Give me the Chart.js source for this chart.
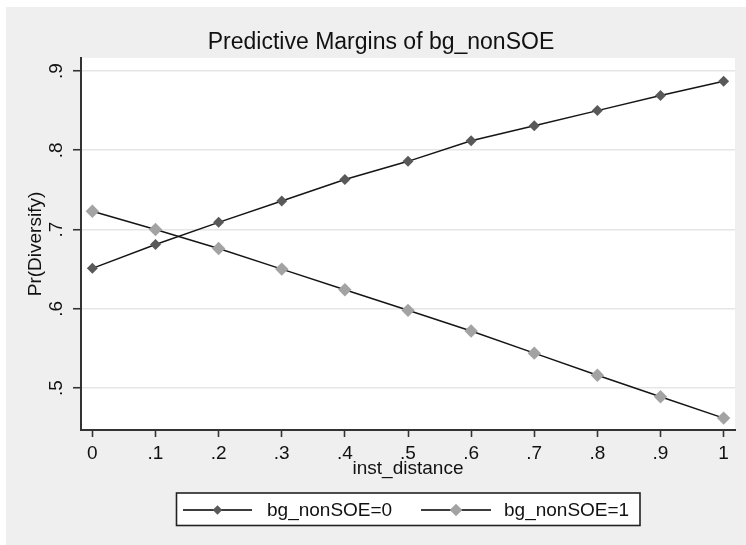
<!DOCTYPE html>
<html>
<head>
<meta charset="utf-8">
<script src="https://cdn.jsdelivr.net/npm/chart.js@4/dist/chart.umd.min.js"></script>
<style>
html,body{margin:0;padding:0;background:#ffffff;}
#wrap{width:746px;height:545px;}
</style>
</head>
<body>
<div id="wrap"><canvas id="c" width="746" height="545"></canvas></div>
<script>
const instDistance = [0, 0.1, 0.2, 0.3, 0.4, 0.5, 0.6, 0.7, 0.8, 0.9, 1];
const nonSOE0 = [0.651, 0.681, 0.709, 0.736, 0.763, 0.786, 0.812, 0.831, 0.850, 0.869, 0.887];
const nonSOE1 = [0.723, 0.700, 0.676, 0.650, 0.624, 0.598, 0.572, 0.544, 0.516, 0.489, 0.462];
const seriesNames = ['bg_nonSOE=0', 'bg_nonSOE=1'];
const xTicks = [0, 0.1, 0.2, 0.3, 0.4, 0.5, 0.6, 0.7, 0.8, 0.9, 1];
const xTickLabels = ['0', '.1', '.2', '.3', '.4', '.5', '.6', '.7', '.8', '.9', '1'];
const yTicks = [0.5, 0.6, 0.7, 0.8, 0.9];
const yTickLabels = ['.5', '.6', '.7', '.8', '.9'];
const titleText = 'Predictive Margins of bg_nonSOE';
const xTitle = 'inst_distance';
const yTitle = 'Pr(Diversify)';

const FONT = '"Liberation Sans", Arial, Helvetica, sans-serif';
const TXT = '#111111';
const colors = ['#595959', '#a3a3a3'];
const radii = [5.5, 6.7];

const pts = arr => arr.map((v, i) => ({x: instDistance[i], y: v}));

const bgPlugin = {
  id: 'bg',
  beforeDraw(chart) {
    const ctx = chart.ctx, a = chart.chartArea;
    ctx.save();
    ctx.fillStyle = '#ffffff';
    ctx.fillRect(0, 0, chart.width, chart.height);
    ctx.fillStyle = '#efefef';
    ctx.fillRect(6, 7, chart.width - 6, chart.height - 7);
    ctx.fillStyle = '#ffffff';
    ctx.fillRect(a.left, a.top, a.right - a.left, a.bottom - a.top);
    ctx.restore();
  },
  afterDraw(chart) {
    const ctx = chart.ctx;
    ctx.save();
    // title
    ctx.fillStyle = TXT;
    ctx.font = '23px ' + FONT;
    ctx.textAlign = 'center';
    ctx.textBaseline = 'alphabetic';
    ctx.fillText(titleText, 381, 49);
    // legend box
    ctx.fillStyle = '#ffffff';
    ctx.fillRect(176, 493, 464, 32);
    ctx.strokeStyle = '#222222';
    ctx.lineWidth = 1.6;
    ctx.strokeRect(176.5, 493, 463.5, 32.5);
    const entries = [
      {x1: 183, x2: 252, tx: 267},
      {x1: 421, x2: 491, tx: 504}
    ];
    const ly = 510;
    entries.forEach((e, i) => {
      ctx.strokeStyle = '#3c3c3c';
      ctx.lineWidth = 1.8;
      ctx.beginPath();
      ctx.moveTo(e.x1, ly);
      ctx.lineTo(e.x2, ly);
      ctx.stroke();
      const mx = (e.x1 + e.x2) / 2;
      const r = i === 0 ? 4.8 : 6.3;
      ctx.fillStyle = colors[i];
      ctx.beginPath();
      ctx.moveTo(mx - r, ly);
      ctx.lineTo(mx, ly - r);
      ctx.lineTo(mx + r, ly);
      ctx.lineTo(mx, ly + r);
      ctx.closePath();
      ctx.fill();
      ctx.fillStyle = TXT;
      ctx.font = '19px ' + FONT;
      ctx.textAlign = 'left';
      ctx.textBaseline = 'alphabetic';
      ctx.fillText(seriesNames[i], e.tx, 516);
    });
    ctx.restore();
  }
};

new Chart(document.getElementById('c'), {
  type: 'line',
  data: {
    datasets: [
      {label: seriesNames[0], data: pts(nonSOE0), borderColor: '#151515', borderWidth: 1.5,
       pointStyle: 'rectRot', pointRadius: radii[0], pointBackgroundColor: colors[0], pointBorderWidth: 0, tension: 0},
      {label: seriesNames[1], data: pts(nonSOE1), borderColor: '#151515', borderWidth: 1.5,
       pointStyle: 'rectRot', pointRadius: radii[1], pointBackgroundColor: colors[1], pointBorderWidth: 0, tension: 0}
    ]
  },
  options: {
    responsive: false,
    devicePixelRatio: 1,
    animation: false,
    events: [],
    layout: {padding: {left: 0, right: 11, top: 58, bottom: 63}},
    plugins: {legend: {display: false}, title: {display: false}, tooltip: {enabled: false}},
    scales: {
      x: {
        type: 'linear', min: -0.018, max: 1.018,
        afterBuildTicks: s => { s.ticks = xTicks.map(v => ({value: v})); },
        afterFit: s => { s.height = 52; },
        ticks: {
          callback: (v) => { const i = xTicks.findIndex(t => Math.abs(t - v) < 1e-9); return i >= 0 ? xTickLabels[i] : ''; },
          font: {family: FONT, size: 19}, color: TXT, padding: 5, maxRotation: 0, autoSkip: false
        },
        grid: {drawOnChartArea: false, drawTicks: true, tickLength: 7, tickColor: '#333333', tickWidth: 1.6},
        border: {display: true, color: '#333333', width: 2},
        title: {display: true, text: xTitle, font: {family: FONT, size: 19}, color: TXT, padding: {top: 0, bottom: 2}}
      },
      y: {
        type: 'linear', min: 0.447, max: 0.9164,
        afterBuildTicks: s => { s.ticks = yTicks.map(v => ({value: v})); },
        afterFit: s => { s.width = 81; },
        ticks: {
          callback: (v) => { const i = yTicks.findIndex(t => Math.abs(t - v) < 1e-9); return i >= 0 ? yTickLabels[i] : ''; },
          font: {family: FONT, size: 19}, color: TXT, padding: 8, minRotation: 90, maxRotation: 90,
          crossAlign: 'center', autoSkip: false
        },
        grid: {drawOnChartArea: true, color: '#e6e6e6', lineWidth: 1.5, drawTicks: true, tickLength: 8, tickColor: '#333333', tickWidth: 1.6},
        border: {display: true, color: '#333333', width: 2},
        title: {display: true, text: yTitle, font: {family: FONT, size: 19}, color: TXT, padding: {top: 24, bottom: 0}}
      }
    }
  },
  plugins: [bgPlugin]
});
</script>
</body>
</html>
